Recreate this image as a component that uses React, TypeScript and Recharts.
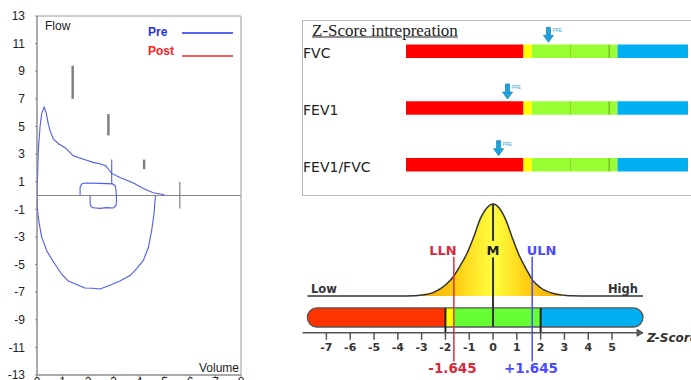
import React from 'react';
import {
  ComposedChart,
  ScatterChart,
  Line,
  Area,
  Scatter,
  XAxis,
  YAxis,
  ReferenceArea,
  ReferenceLine,
  ReferenceDot,
} from 'recharts';

// ---------- Flow-volume loop (left) ----------
const volumeTicks = [0, 1, 2, 3, 4, 5, 6, 7, 8];
const flowTicks = [-13, -11, -9, -7, -5, -3, -1, 1, 3, 5, 7, 9, 11, 13];

const expVolume = [0, 0.05, 0.12, 0.18, 0.28, 0.36, 0.44, 0.51, 0.64, 0.84, 1.1, 1.3, 1.42, 1.7, 1.95, 2.2, 2.47, 2.7, 2.8, 2.93, 3.25, 3.52, 3.78, 4.17, 4.56, 4.95, 5.0];
const expFlow = [0, 3.2, 5.0, 5.9, 6.4, 6.0, 5.2, 4.7, 4.1, 3.75, 3.46, 3.1, 2.87, 2.7, 2.55, 2.4, 2.3, 2.15, 1.9, 1.6, 1.3, 1.1, 0.9, 0.5, 0.2, 0.07, 0.05];

const inspVolume = [0, 0.01, 0.04, 0.09, 0.18, 0.38, 0.64, 0.97, 1.23, 1.62, 1.88, 2.2, 2.47, 2.86, 3.25, 3.65, 3.91, 4.17, 4.37, 4.5, 4.59, 4.63, 4.65];
const inspFlow = [0, -0.7, -1.4, -2.05, -3.0, -4.0, -4.8, -5.7, -6.2, -6.5, -6.7, -6.72, -6.77, -6.5, -6.2, -5.8, -5.3, -4.7, -3.75, -2.5, -1.3, -0.3, 0];

const tidalVolume = [1.69, 1.69, 1.75, 1.88, 2.47, 2.96, 3.07, 3.1, 3.12, 3.1, 3.0, 2.7, 2.5, 2.3, 2.18, 2.09, 2.08];
const tidalFlow = [0, 0.6, 0.84, 0.9, 0.88, 0.84, 0.72, 0.36, -0.36, -0.7, -0.9, -0.88, -0.93, -0.9, -0.88, -0.72, 0];

const markerVolume = [2.93, 2.93];
const markerFlow = [2.6, 0.84];

const predVolume = [1.4, 2.8, 4.2, 5.6];
const predTop = [9.4, 5.9, 2.6, 1.0];
const predBottom = [7.0, 4.35, 1.9, -0.95];

const toPoints = (vs: number[], fs: number[]) => vs.map((v, i) => ({ v, f: fs[i] }));
const expData = toPoints(expVolume, expFlow);
const inspData = toPoints(inspVolume, inspFlow);
const tidalData = toPoints(tidalVolume, tidalFlow);
const markerData = toPoints(markerVolume, markerFlow);
const predData = predVolume.map((v, i) => [
  { v, f: predTop[i] },
  { v, f: predBottom[i] },
]);

// ---------- Z-score interpretation (top right) ----------
const zRows = ['FVC', 'FEV1', 'FEV1/FVC'];
const zPre = [-0.94, -2.68, -3.06];
const zoneBounds = [-7, -2, -1.645, 0, 1.645, 2, 5];
const zoneColors = ['#ff0000', '#ffff00', '#99ff33', '#99ff33', '#99ff33', '#00b0f0'];
const zoneDividers = [0, 1.645];
const zoneDividerColors = ['#86e02a', '#5f9f1c'];
const arrowData = zPre.map((z, i) => ({ z, row: i }));

// ---------- Normal curve scale (bottom right) ----------
const scaleTicks = [-7, -6, -5, -4, -3, -2, -1, 0, 1, 2, 3, 4, 5];
const bellZ = [-7.8, -4.0, -3.3, -3.0, -2.5, -2.0, -1.67, -1.4, -1.1, -0.8, -0.55, -0.25, 0, 0.25, 0.55, 0.8, 1.1, 1.4, 1.67, 2.0, 2.5, 3.0, 3.3, 4.0, 6.3];
const bellH = [0, 0, 0.003, 0.01, 0.04, 0.12, 0.21, 0.32, 0.46, 0.65, 0.83, 0.96, 1.0, 0.96, 0.82, 0.64, 0.44, 0.29, 0.17, 0.09, 0.03, 0.008, 0.002, 0, 0];
const bellData = bellZ.map((z, i) => ({ z, h: bellH[i] }));
const pillBounds = [-7.8, -2, -1.645, 2, 6.3];
const pillColors = ['#ff3300', '#ffff00', '#66ff33', '#00b0f0'];
const pillSides = ['left', 'none', 'none', 'right'];
const pillTop = -0.13;
const pillBottom = -0.337;
const cutoffs = [-2, 2];
const LLN = -1.645;
const ULN = 1.645;

const blue = '#4f5cf0';
const sans = '"Liberation Sans", Arial, sans-serif';
const dejavu = '"DejaVu Sans", Verdana, sans-serif';

const pillShape = (side: string, fill: string, stroke = 'none', sw = 0) => (p: any) => {
  const x = p.x, y = p.y, w = p.width, h = p.height;
  const r = h / 2;
  let d = '';
  if (side === 'left') {
    d = `M${x + r},${y} H${x + w} V${y + h} H${x + r} A${r},${r} 0 0 1 ${x + r},${y} Z`;
  } else if (side === 'right') {
    d = `M${x},${y} H${x + w - r} A${r},${r} 0 0 1 ${x + w - r},${y + h} H${x} Z`;
  } else if (side === 'both') {
    d = `M${x + r},${y} H${x + w - r} A${r},${r} 0 0 1 ${x + w - r},${y + h} H${x + r} A${r},${r} 0 0 1 ${x + r},${y} Z`;
  } else {
    d = `M${x},${y} H${x + w} V${y + h} H${x} Z`;
  }
  return <path d={d} fill={fill} stroke={stroke} strokeWidth={sw} />;
};

const RowTick = (props: any) => {
  const { y, payload } = props;
  return (
    <text x={3} y={y + 7} fontSize={14} fontFamily={dejavu} fill="#222">
      {zRows[payload.value]}
    </text>
  );
};

const PreArrow = (props: any) => {
  const { cx, cy } = props;
  const tip = cy - 9;
  const top = tip - 15;
  return (
    <g>
      <path
        d={`M${cx - 2},${top} H${cx + 2} V${top + 8} H${cx + 5} L${cx},${tip} L${cx - 5},${top + 8} H${cx - 2} Z`}
        fill="#1ea2dd"
        stroke="#1180b5"
        strokeWidth={0.7}
      />
      <text x={cx + 4} y={top + 5} fontSize={4.5} fontFamily={sans} fill="#3aa8d8">
        PRE
      </text>
    </g>
  );
};

const Txt = (p: {
  x: number;
  y: number;
  children: React.ReactNode;
  size: number;
  color?: string;
  bold?: boolean;
  italic?: boolean;
  family?: string;
  anchor?: 'left' | 'center';
  underline?: boolean;
}) => (
  <div
    style={{
      position: 'absolute',
      left: p.x,
      top: p.y,
      transform: p.anchor === 'left' ? 'translate(0,-50%)' : 'translate(-50%,-50%)',
      whiteSpace: 'nowrap',
      lineHeight: 1,
      fontSize: p.size,
      color: p.color || '#222',
      fontWeight: p.bold ? 'bold' : 'normal',
      fontStyle: p.italic ? 'italic' : 'normal',
      fontFamily: p.family || sans,
      textDecoration: p.underline ? 'underline' : 'none',
    }}
  >
    {p.children}
  </div>
);

export default function App() {
  return (
    <div
      style={{
        position: 'absolute',
        left: 0,
        top: 0,
        width: 691,
        height: 380,
        overflow: 'hidden',
        background: '#fff',
      }}
    >
      {/* Flow-volume loop */}
      <div style={{ position: 'absolute', left: 0, top: 0 }}>
        <ComposedChart width={260} height={400} margin={{ top: 16, right: 19, bottom: 0, left: 0 }}>
          <XAxis
            type="number"
            dataKey="v"
            domain={[0, 8]}
            ticks={volumeTicks}
            interval={0}
            allowDataOverflow
            height={25}
            stroke="#888"
            tickSize={2}
            tickMargin={0}
            tick={{ fill: '#222', fontSize: 12, fontFamily: sans }}
          />
          <YAxis
            type="number"
            domain={[-13, 13]}
            ticks={flowTicks}
            interval={0}
            allowDataOverflow
            width={37}
            stroke="#888"
            tickSize={2}
            tickMargin={10}
            tick={{ fill: '#222', fontSize: 12, fontFamily: sans }}
          />
          <ReferenceArea x1={0} x2={8} y1={-13} y2={13} fill="none" stroke="#9a9a9a" strokeWidth={1} />
          <ReferenceLine y={0} stroke="#888" strokeWidth={1} />
          {predData.map((d, i) => (
            <Line
              key={'pred' + i}
              data={d}
              dataKey="f"
              type="linear"
              stroke="#808080"
              strokeWidth={i === 3 ? 1.2 : 2.5}
              dot={false}
              isAnimationActive={false}
            />
          ))}
          <Line data={expData} dataKey="f" type="linear" stroke={blue} strokeWidth={1.1} dot={false} isAnimationActive={false} />
          <Line data={inspData} dataKey="f" type="linear" stroke={blue} strokeWidth={1.1} dot={false} isAnimationActive={false} />
          <Line data={tidalData} dataKey="f" type="linear" stroke={blue} strokeWidth={1.1} dot={false} isAnimationActive={false} />
          <Line data={markerData} dataKey="f" type="linear" stroke={blue} strokeWidth={1.1} dot={false} isAnimationActive={false} />
        </ComposedChart>
      </div>
      <Txt x={45} y={26} size={12} anchor="left">Flow</Txt>
      <Txt x={148} y={32} size={12} bold color="#1f30ee" anchor="left">Pre</Txt>
      <div style={{ position: 'absolute', left: 182, top: 32, width: 51, height: 2, background: '#5a66f2' }} />
      <Txt x={148} y={51} size={12} bold color="#ff2020" anchor="left">Post</Txt>
      <div style={{ position: 'absolute', left: 182, top: 55, width: 51, height: 2, background: '#ff5a5a' }} />
      <Txt x={199} y={368} size={12} anchor="left">Volume</Txt>

      {/* Z-score interpretation box */}
      <div
        style={{
          position: 'absolute',
          left: 302,
          top: 20,
          width: 400,
          height: 174,
          border: '1px solid #b8b8b8',
        }}
      />
      <Txt x={312} y={30} size={17} family='"Liberation Serif", "Times New Roman", serif' anchor="left" underline>
        Z-Score intrepreation
      </Txt>
      <div style={{ position: 'absolute', left: 300, top: 20 }}>
        <ScatterChart width={391} height={176} margin={{ top: 3, right: 3, bottom: 3, left: 0 }}>
          <XAxis type="number" dataKey="z" domain={[-7, 5]} hide allowDataOverflow />
          <YAxis
            type="number"
            dataKey="row"
            domain={[-0.5, 2.5]}
            reversed
            ticks={[0, 1, 2]}
            interval={0}
            width={106}
            axisLine={false}
            tickLine={false}
            tick={(p: any) => <RowTick {...p} />}
            allowDataOverflow
          />
          {zRows.map((r, i) =>
            zoneColors.map((c, j) => (
              <ReferenceArea
                key={r + j}
                x1={zoneBounds[j]}
                x2={zoneBounds[j + 1]}
                y1={i - 0.119}
                y2={i + 0.119}
                fill={c}
                fillOpacity={1}
                stroke="none"
                ifOverflow="visible"
              />
            ))
          )}
          {zRows.map((r, i) =>
            zoneDividers.map((z, j) => (
              <ReferenceLine
                key={r + 'div' + j}
                segment={[
                  { x: z, y: i - 0.119 },
                  { x: z, y: i + 0.119 },
                ]}
                stroke={zoneDividerColors[j]}
                strokeWidth={1}
                ifOverflow="visible"
              />
            ))
          )}
          <Scatter data={arrowData} shape={(p: any) => <PreArrow {...p} />} isAnimationActive={false} />
        </ScatterChart>
      </div>

      {/* Normal distribution scale */}
      <div style={{ position: 'absolute', left: 290, top: 196 }}>
        <ComposedChart width={401} height={184} margin={{ top: 6.2, right: 48, bottom: 22.2, left: 12.6 }}>
          <defs>
            <linearGradient id="bellFill" x1="0" y1="0" x2="1" y2="0">
              <stop offset="0.32" stopColor="#f0a000" />
              <stop offset="0.44" stopColor="#ffcc10" />
              <stop offset="0.553" stopColor="#ffff40" />
              <stop offset="0.66" stopColor="#ffcc10" />
              <stop offset="0.78" stopColor="#f0a000" />
            </linearGradient>
          </defs>
          <XAxis
            type="number"
            dataKey="z"
            domain={[-8, 6.3]}
            ticks={scaleTicks}
            interval={0}
            allowDataOverflow
            height={25}
            axisLine={{ stroke: '#555', strokeWidth: 1.5 }}
            tickLine={{ stroke: '#555', strokeWidth: 1.5 }}
            tickSize={7}
            tickMargin={3}
            tick={{ fill: '#333', fontSize: 11, fontWeight: 'bold', fontFamily: dejavu }}
          />
          <YAxis type="number" domain={[-0.4, 1.02]} hide allowDataOverflow />
          {pillColors.map((c, i) => (
            <ReferenceArea
              key={'pill' + i}
              x1={pillBounds[i]}
              x2={pillBounds[i + 1]}
              y1={pillBottom}
              y2={pillTop}
              ifOverflow="visible"
              shape={pillShape(pillSides[i], c)}
            />
          ))}
          <ReferenceArea
            x1={pillBounds[0]}
            x2={pillBounds[pillBounds.length - 1]}
            y1={pillBottom}
            y2={pillTop}
            ifOverflow="visible"
            shape={pillShape('both', 'none', '#555', 1.3)}
          />
          {cutoffs.map((z) => (
            <ReferenceLine
              key={'cut' + z}
              segment={[
                { x: z, y: pillTop },
                { x: z, y: -0.4 },
              ]}
              stroke="#222"
              strokeWidth={2}
              ifOverflow="visible"
            />
          ))}
          <Area
            data={bellData}
            dataKey="h"
            type="monotone"
            stroke="#333"
            strokeWidth={1.5}
            fill="url(#bellFill)"
            fillOpacity={1}
            baseValue={0}
            isAnimationActive={false}
          />
          <ReferenceLine
            segment={[
              { x: 0, y: 1.0 },
              { x: 0, y: 0.6 },
            ]}
            stroke="#333"
            strokeWidth={2}
            ifOverflow="visible"
          />
          <ReferenceLine
            segment={[
              { x: 0, y: 0.42 },
              { x: 0, y: pillBottom },
            ]}
            stroke="#333"
            strokeWidth={2}
            ifOverflow="visible"
          />
          <ReferenceLine
            segment={[
              { x: LLN, y: 0.427 },
              { x: LLN, y: -0.713 },
            ]}
            stroke="#e0303c"
            strokeWidth={1.5}
            ifOverflow="visible"
          />
          <ReferenceLine
            segment={[
              { x: ULN, y: 0.427 },
              { x: ULN, y: -0.713 },
            ]}
            stroke="#4a4aff"
            strokeWidth={1.5}
            ifOverflow="visible"
          />
          <ReferenceDot
            x={6.3}
            y={-0.4}
            ifOverflow="visible"
            shape={(p: any) => (
              <path
                d={`M${p.cx - 6},${p.cy - 3.5} L${p.cx},${p.cy} L${p.cx - 6},${p.cy + 3.5} Z`}
                fill="#555"
                stroke="#555"
                strokeWidth={1}
              />
            )}
          />
        </ComposedChart>
      </div>
      <Txt x={311} y={290} size={11.5} bold color="#333" family={dejavu} anchor="left">Low</Txt>
      <Txt x={608} y={290} size={11.5} bold color="#333" family={dejavu} anchor="left">High</Txt>
      <Txt x={443} y={250} size={13} bold color="#d92a3c" family={dejavu}>LLN</Txt>
      <Txt x={493} y={250} size={13} bold color="#222" family={dejavu}>M</Txt>
      <Txt x={541.5} y={250} size={13} bold color="#4b4bff" family={dejavu}>ULN</Txt>
      <Txt x={452.5} y={369} size={13.5} bold color="#d92a3c" family={dejavu}>-1.645</Txt>
      <Txt x={531} y={369} size={13.5} bold color="#4b4bff" family={dejavu}>+1.645</Txt>
      <Txt x={647} y={338} size={12} bold italic color="#333" family={dejavu} anchor="left">Z-Score</Txt>
    </div>
  );
}
